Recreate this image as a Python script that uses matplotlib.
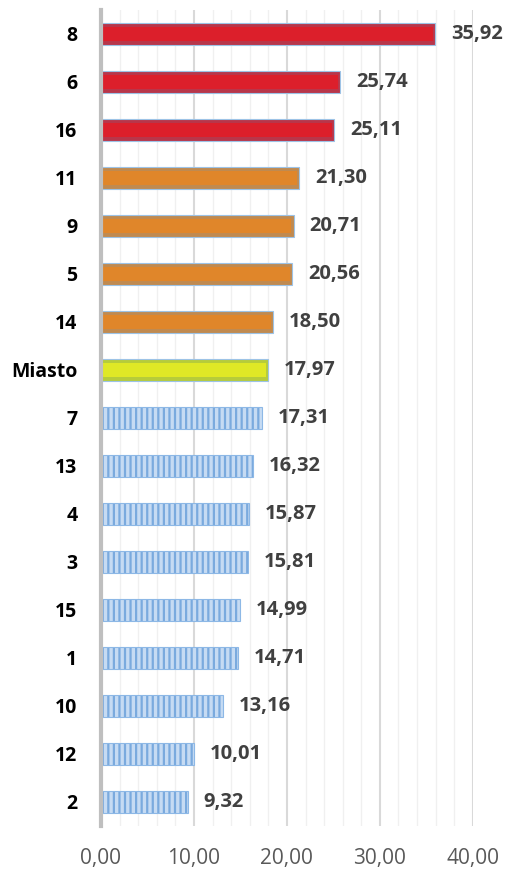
import matplotlib
matplotlib.use("Agg")
import matplotlib.pyplot as plt
from matplotlib.ticker import MultipleLocator

categories = ["8", "6", "16", "11", "9", "5", "14", "Miasto", "7", "13", "4", "3", "15", "1", "10", "12", "2"]
values = [35.92, 25.74, 25.11, 21.30, 20.71, 20.56, 18.50, 17.97, 17.31, 16.32, 15.87, 15.81, 14.99, 14.71, 13.16, 10.01, 9.32]
groups = ["red", "red", "red", "orange", "orange", "orange", "orange", "city",
          "blue", "blue", "blue", "blue", "blue", "blue", "blue", "blue", "blue"]
xticks = [0, 10, 20, 30, 40]

styles = {
    "red": dict(face="#dc1f2b", edge="#b8364a", hatch=None),
    "orange": dict(face="#e0862a", edge="#c08a50", hatch=None),
    "city": dict(face="#dfe826", edge="#b6cc3a", hatch=None),
    "blue": dict(face="#c6dbf3", edge="#7aaade", hatch="|||"),
}

plt.rcParams['font.family'] = ['Open Sans', 'DejaVu Sans']
plt.rcParams['hatch.linewidth'] = 1.6

fig = plt.figure(figsize=(5.09, 8.69), dpi=100)
ax = fig.add_axes([0.1984, 0.0495, 0.7306, 0.939])

ypos = list(range(len(categories)))
for y, v, g in zip(ypos, values, groups):
    s = styles[g]
    if s["hatch"]:
        plt.rcParams['hatch.color'] = s["edge"]
        ax.barh(y, v, height=0.47, color=s["face"], edgecolor=s["edge"],
                hatch=s["hatch"], linewidth=0, zorder=3)
        ax.barh(y, v, height=0.47, fill=False, edgecolor="#8db8e6", linewidth=0.8, zorder=4)
    else:
        ax.barh(y, v, height=0.47, color=s["edge"], edgecolor="#9dc3e6", linewidth=0.8, zorder=3)
        ax.barh(y, v - 0.5, left=0.25, height=0.31, color=s["face"], linewidth=0, zorder=4)
    ax.text(v + 1.7, y, f"{v:.2f}".replace(".", ","), va="center", ha="left",
            fontsize=14.5, fontweight="bold", color="#404040", zorder=5)

ax.set_xlim(0, 40)
ax.set_ylim(len(categories) - 0.5, -0.5)
ax.set_yticks(ypos)
ax.set_yticklabels(categories, fontsize=14, fontweight="bold", color="black")
ax.set_xticks(xticks)
ax.set_xticklabels([f"{t:.2f}".replace(".", ",") for t in xticks], fontsize=15, color="#595959")
ax.xaxis.set_minor_locator(MultipleLocator(2))
ax.grid(axis="x", which="major", color="#d9d9d9", linewidth=1.5, zorder=0)
ax.grid(axis="x", which="minor", color="#f0f0f0", linewidth=1.0, zorder=0)
ax.tick_params(axis="both", which="both", length=0)
ax.tick_params(axis="y", pad=17)
ax.tick_params(axis="x", pad=16)
for sp in ["top", "right", "bottom"]:
    ax.spines[sp].set_visible(False)
ax.spines["left"].set_color("#bfbfbf")
ax.spines["left"].set_linewidth(3)
ax.spines["left"].set_zorder(6)

fig.savefig("out.png", dpi=100)
